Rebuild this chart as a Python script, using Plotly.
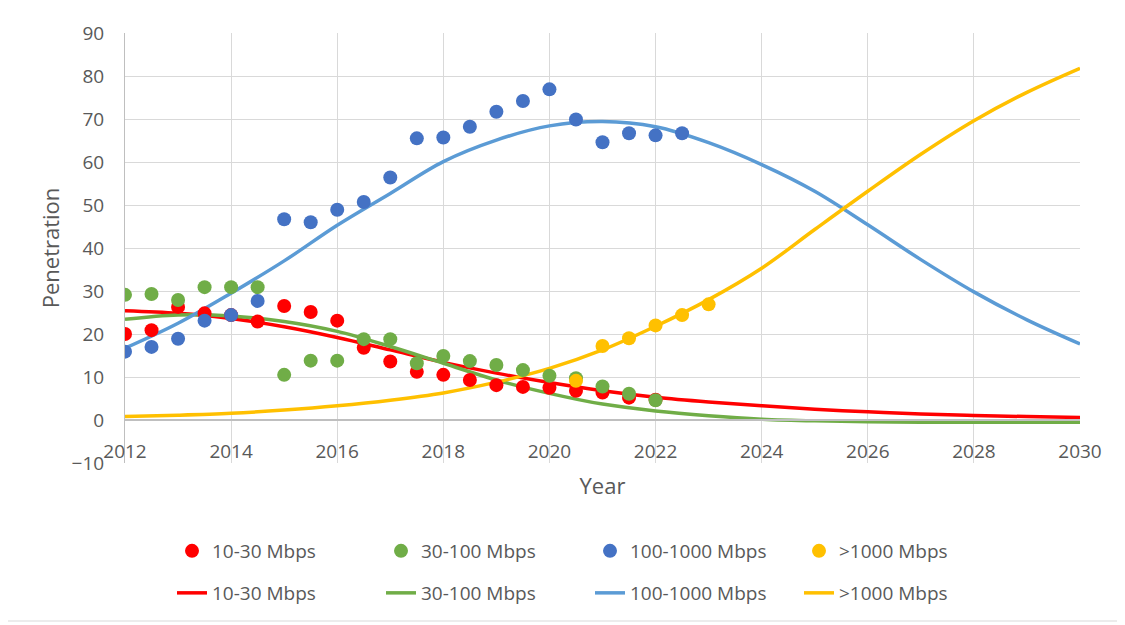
import plotly.graph_objects as go

# ---- data ----
years_obs = [2012, 2012.5, 2013, 2013.5, 2014, 2014.5, 2015, 2015.5, 2016, 2016.5,
             2017, 2017.5, 2018, 2018.5, 2019, 2019.5, 2020, 2020.5, 2021, 2021.5, 2022]
red_obs = [20.0, 20.9, 26.3, 24.8, 24.4, 22.9, 26.5, 25.1, 23.1, 16.8,
           13.6, 11.2, 10.5, 9.3, 8.1, 7.7, 7.5, 6.8, 6.4, 5.2, 4.7]
green_obs = [29.1, 29.3, 27.9, 30.9, 30.9, 30.9, 10.5, 13.8, 13.8, 18.8,
             18.8, 13.2, 14.9, 13.7, 12.8, 11.6, 10.3, 9.7, 7.8, 6.1, 4.6]
years_blue = [2012, 2012.5, 2013, 2013.5, 2014, 2014.5, 2015, 2015.5, 2016, 2016.5,
              2017, 2017.5, 2018, 2018.5, 2019, 2019.5, 2020, 2020.5, 2021, 2021.5, 2022, 2022.5]
blue_obs = [15.9, 17.0, 18.9, 23.1, 24.4, 27.7, 46.7, 46.0, 48.9, 50.7,
            56.4, 65.5, 65.7, 68.2, 71.7, 74.2, 76.9, 69.9, 64.6, 66.7, 66.2, 66.7]
years_yellow = [2020.5, 2021, 2021.5, 2022, 2022.5, 2023]
yellow_obs = [9.1, 17.2, 19.0, 22.0, 24.4, 26.9]

years_fit = [2012, 2013, 2014, 2015, 2016, 2017, 2018, 2019, 2020, 2021,
             2022, 2023, 2024, 2025, 2026, 2027, 2028, 2029, 2030]
red_fit = [25.4, 24.8, 23.6, 21.7, 19.2, 16.3, 13.4, 10.9, 8.7, 6.8,
           5.3, 4.2, 3.3, 2.5, 1.9, 1.4, 1.05, 0.8, 0.6]
green_fit = [23.4, 24.4, 24.2, 22.9, 20.6, 17.1, 13.2, 9.3, 6.2, 3.7,
             2.1, 1.0, 0.2, -0.2, -0.4, -0.5, -0.5, -0.5, -0.5]
blue_fit = [16.7, 22.5, 29.5, 37.0, 45.3, 52.7, 60.1, 65.1, 68.4, 69.4,
            68.2, 64.5, 59.4, 53.2, 45.4, 37.3, 29.8, 23.3, 17.7]
yellow_fit = [0.8, 1.1, 1.55, 2.3, 3.3, 4.6, 6.3, 8.8, 12.0, 16.3,
              21.8, 28.0, 35.3, 44.3, 53.2, 61.8, 69.6, 76.2, 81.8]

labels = ["10-30 Mbps", "30-100 Mbps", "100-1000 Mbps", ">1000 Mbps"]
marker_colors = ["#FF0000", "#70AD47", "#4472C4", "#FFC000"]
line_colors = ["#FF0000", "#70AD47", "#5B9BD5", "#FFC000"]

FONT = "Open Sans"
TXT = "#595959"

fig = go.Figure()

# fitted curves (drawn first, markers on top)
for name, ys, col in zip(labels, [red_fit, green_fit, blue_fit, yellow_fit], line_colors):
    fig.add_trace(go.Scatter(x=years_fit, y=ys, mode="lines", name=name,
                             line=dict(color=col, width=3.5, shape="spline", smoothing=1.0),
                             legend="legend2", hoverinfo="skip"))

obs = [(years_obs, red_obs), (years_obs, green_obs), (years_blue, blue_obs), (years_yellow, yellow_obs)]
for name, (xs, ys), col in zip(labels, obs, marker_colors):
    fig.add_trace(go.Scatter(x=xs, y=ys, mode="markers", name=name,
                             marker=dict(color=col, size=14, line=dict(width=0)),
                             legend="legend", hoverinfo="skip"))

# the page body adds an 8px offset; size the figure so page pixels match the reference
OFF = 8
W, H = 1125 - OFF, 625 - OFF
L, T = 125 - OFF, 33 - OFF
R = W - (1080 - OFF)
B = H - (463 - OFF)
pw, ph = W - L - R, H - T - B

def px_x(p):  # page pixel -> paper x
    return (p - OFF - L) / pw

def px_y(p):  # page pixel -> paper y
    return (H - B - (p - OFF)) / ph

fig.update_layout(
    width=W, height=H,
    margin=dict(l=L, r=R, t=T, b=B, autoexpand=False),
    paper_bgcolor="white", plot_bgcolor="white",
    font=dict(family=FONT, color=TXT, size=19),
    xaxis=dict(range=[2012, 2030], dtick=2, tick0=2012, showgrid=True,
               gridcolor="#D9D9D9", gridwidth=1, zeroline=False, automargin=False,
               anchor="free", position=0.1, showline=True, linecolor="#BFBFBF",
               linewidth=1.5, ticks="", ticklabelstandoff=14,
               tickfont=dict(size=19, color=TXT, family=FONT),
               title=dict(text="Year", font=dict(size=22, color=TXT, family=FONT), standoff=15)),
    yaxis=dict(range=[-10, 90], dtick=10, showgrid=True, gridcolor="#D9D9D9",
               gridwidth=1, zeroline=False, showline=True, linecolor="#BFBFBF",
               linewidth=1, ticks="", ticklabelstandoff=16, automargin=False,
               tickfont=dict(size=19, color=TXT, family=FONT),
               title=dict(text="Penetration", font=dict(size=22, color=TXT, family=FONT), standoff=5)),
    legend=dict(orientation="h", x=px_x(172), xanchor="left", y=px_y(551), yanchor="middle",
                entrywidth=164, entrywidthmode="pixels", bgcolor="rgba(0,0,0,0)",
                font=dict(size=19, color=TXT, family=FONT), traceorder="normal"),
    legend2=dict(orientation="h", x=px_x(172), xanchor="left", y=px_y(593), yanchor="middle",
                 entrywidth=164, entrywidthmode="pixels", bgcolor="rgba(0,0,0,0)",
                 font=dict(size=19, color=TXT, family=FONT), traceorder="normal"),
    shapes=[dict(type="rect", xref="paper", yref="paper",
                 x0=px_x(5), x1=px_x(1120), y0=px_y(5), y1=px_y(621),
                 line=dict(color="#D9D9D9", width=1), fillcolor="rgba(0,0,0,0)", layer="below")],
)

fig.write_html("out.html")
